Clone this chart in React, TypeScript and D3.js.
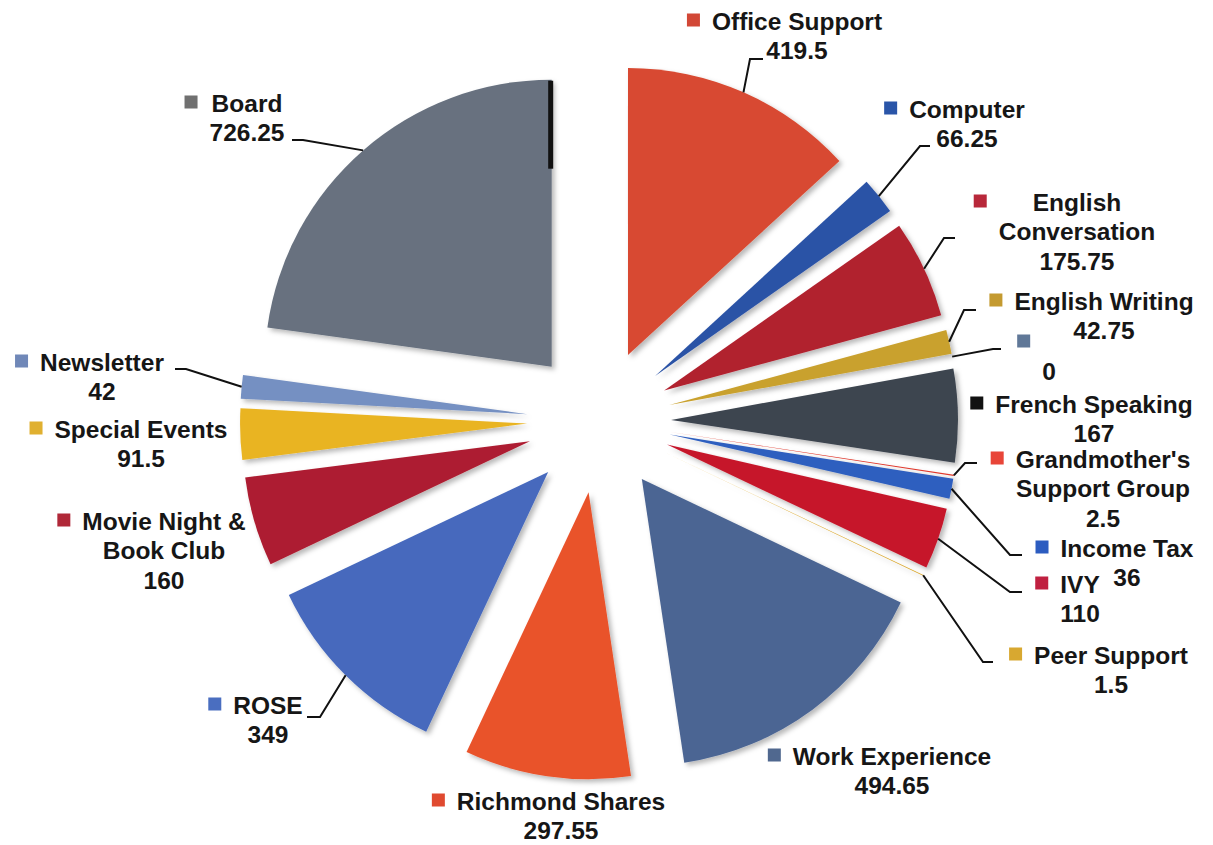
import React from 'react';
import * as d3 from 'd3';

// ---- data ----
const categories = [
  'Office Support', 'Computer', 'English Conversation', 'English Writing', '',
  'French Speaking', "Grandmother's Support Group", 'Income Tax', 'IVY', 'Peer Support',
  'Work Experience', 'Richmond Shares', 'ROSE', 'Movie Night & Book Club',
  'Special Events', 'Newsletter', 'Board',
];
const values = [
  419.5, 66.25, 175.75, 42.75, 0,
  167, 2.5, 36, 110, 1.5,
  494.65, 297.55, 349, 160,
  91.5, 42, 726.25,
];

// ---- styles ----
const sliceColors = [
  '#d84a31', '#2b53a6', '#b1202f', '#c9a12e', '#6a7fa0',
  '#3d4550', '#e0392d', '#2f5fbf', '#c6172c', '#d9a830',
  '#4b6593', '#e9522b', '#4669bd', '#ad1d30',
  '#e9b424', '#7590c2', '#67717f',
];
const keyColors = [
  '#d24836', '#2a55a8', '#b8283a', '#c49a30', '#607898',
  '#111111', '#e84538', '#2c5cc0', '#c02040', '#d8a830',
  '#50688f', '#e04a30', '#4a6ec0', '#b02838',
  '#e0b030', '#7088b8', '#707070',
];

// ---- layout (label blocks: center x of text, center y of first line) ----
type LabelLayout = { cx: number; cy: number; breakAfter?: number; leader?: [number, number, number, number] };
const labelLayout: LabelLayout[] = [
  { cx: 797, cy: 21, leader: [750, 59, 763, 59] },
  { cx: 967, cy: 109, leader: [920, 146, 930, 146] },
  { cx: 1077, cy: 202, breakAfter: 1, leader: [944, 238, 955, 238] },
  { cx: 1104, cy: 301, leader: [964, 310, 976, 310] },
  { cx: 1049, cy: 342, leader: [993, 349, 1001, 349] },
  { cx: 1094, cy: 404 },
  { cx: 1103, cy: 459, breakAfter: 1, leader: [965, 463, 977, 463] },
  { cx: 1127, cy: 548, leader: [1010, 555, 1022, 555] },
  { cx: 1080, cy: 584, leader: [1010, 592, 1022, 592] },
  { cx: 1111, cy: 655, leader: [983, 662, 993, 662] },
  { cx: 892, cy: 756 },
  { cx: 561, cy: 801 },
  { cx: 268, cy: 705, leader: [320, 717, 307, 717] },
  { cx: 164, cy: 521, breakAfter: 3 },
  { cx: 141, cy: 429 },
  { cx: 102, cy: 362, leader: [186, 369, 175, 369] },
  { cx: 247, cy: 103, leader: [303, 140, 292, 140] },
];

const W = 1213;
const H = 845;
const CX = 599;
const CY = 421;
const R = 287;
const EXPLODE = 72;
const FONT_SIZE = 24.5;
const LINE_H = 29.5;
const FONT = `bold ${FONT_SIZE}px "Liberation Sans", Arial, sans-serif`;

let measureCtx: CanvasRenderingContext2D | null = null;
function measure(t: string): number {
  if (!measureCtx) {
    const c = document.createElement('canvas');
    measureCtx = c.getContext('2d');
  }
  if (!measureCtx) return t.length * FONT_SIZE * 0.55;
  measureCtx.font = FONT;
  return measureCtx.measureText(t).width;
}

export default function App() {
  const pie = d3.pie<number>().sort(null).value((d) => d).startAngle(0).endAngle(2 * Math.PI);
  const arcs = pie(values);
  const arcGen = d3.arc<d3.PieArcDatum<number>>().innerRadius(0).outerRadius(R);

  const slices = arcs.map((a, i) => {
    const mid = (a.startAngle + a.endAngle) / 2;
    const vx = CX + Math.sin(mid) * EXPLODE;
    const vy = CY - Math.cos(mid) * EXPLODE;
    const px = vx + Math.sin(mid) * R;
    const py = vy - Math.cos(mid) * R;
    return { a, i, mid, vx, vy, px, py };
  });

  const board = slices[slices.length - 1];

  return (
    <svg
      width={W}
      height={H}
      viewBox={`0 0 ${W} ${H}`}
      style={{ position: 'absolute', left: 0, top: 0, background: '#fff' }}
    >
      <defs>
        <filter id="sh" x="-20%" y="-20%" width="140%" height="140%">
          <feDropShadow dx="3" dy="3" stdDeviation="2.5" floodColor="#000" floodOpacity="0.28" />
        </filter>
      </defs>
      <rect x={0} y={0} width={W} height={H} fill="#fff" />
      <g>
        {slices.map((s) =>
          s.a.endAngle - s.a.startAngle > 0 ? (
            <path
              key={'s' + s.i}
              d={arcGen(s.a) || ''}
              transform={`translate(${s.vx},${s.vy})`}
              fill={sliceColors[s.i]}
              filter="url(#sh)"
            />
          ) : null
        )}
        {/* dark edge strip on the Board slice */}
        <line
          x1={board.vx - 1}
          y1={board.vy - R + 1}
          x2={board.vx - 1}
          y2={board.vy - R * 0.69}
          stroke="#111"
          strokeWidth={5}
        />
      </g>
      <g fill="none" stroke="#111" strokeWidth={2}>
        {slices.map((s) => {
          const L = labelLayout[s.i];
          if (!L.leader) return null;
          const [ex, ey, lx, ly] = L.leader;
          return <polyline key={'l' + s.i} points={`${s.px},${s.py} ${ex},${ey} ${lx},${ly}`} />;
        })}
      </g>
      <g fontFamily='"Liberation Sans", Arial, sans-serif' fontWeight="bold" fontSize={FONT_SIZE} fill="#161616">
        {slices.map((s) => {
          const L = labelLayout[s.i];
          const name = categories[s.i];
          const words = name.split(' ');
          let nameLines: string[];
          if (L.breakAfter) {
            nameLines = [words.slice(0, L.breakAfter).join(' '), words.slice(L.breakAfter).join(' ')];
          } else {
            nameLines = [name];
          }
          const lines = [...nameLines, String(values[s.i])];
          const maxW = Math.max(...lines.map(measure));
          const left = L.cx - maxW / 2;
          const keySize = 13;
          return (
            <g key={'t' + s.i}>
              <rect
                x={left - 12 - keySize}
                y={L.cy - keySize / 2 - 1}
                width={keySize}
                height={keySize}
                fill={keyColors[s.i]}
              />
              {lines.map((ln, j) => (
                <text key={j} x={L.cx} y={L.cy + j * LINE_H + FONT_SIZE * 0.36} textAnchor="middle">
                  {ln}
                </text>
              ))}
            </g>
          );
        })}
      </g>
    </svg>
  );
}
